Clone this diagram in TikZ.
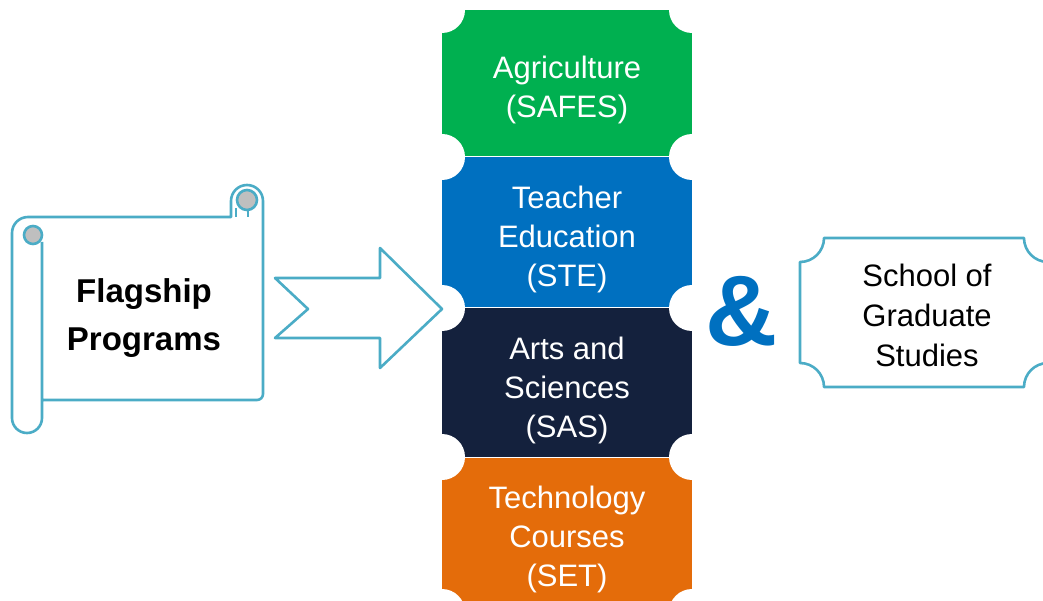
\documentclass[tikz,border=0pt]{standalone}
\usepackage{fontspec}
\setmainfont{Liberation Sans}
\usepackage{tikz}
\usetikzlibrary{positioning}

\definecolor{scrollblue}{HTML}{4BACC6}
\definecolor{agrigreen}{HTML}{00B050}
\definecolor{teachblue}{HTML}{0070C0}
\definecolor{artsnavy}{HTML}{14213D}
\definecolor{techorange}{HTML}{E46C0A}
\definecolor{curlgray}{HTML}{BFBFBF}

\begin{document}
\begin{tikzpicture}[
    x=1pt, y=-1pt,
    outline/.style={draw=scrollblue, line width=2.6pt, line join=round},
    college/.style={align=center, text=white, font=\fontsize{31}{39}\selectfont},
    plain/.style={align=center, text=black, font=\fontsize{31}{40}\selectfont}
]
\clip (0,0) rectangle (1043,601);

% Column of colleges
\fill[agrigreen] (442,10) rectangle (692,156.5);
\fill[teachblue] (442,157.5) rectangle (692,307.5);
\fill[artsnavy] (442,308.5) rectangle (692,456.5);
\fill[techorange] (442,457.5) rectangle (692,612);

% Ticket notches
\fill[white] (442,10) circle (23) (692,10) circle (23)
             (442,157) circle (23) (692,157) circle (23)
             (442,308) circle (23) (692,308) circle (23)
             (442,457) circle (23) (692,457) circle (23)
             (442,612) circle (23) (692,612) circle (23);

\node[college] (safes) at (567,90) {Agriculture\\(SAFES)};
\node[college] (ste) at (567,239) {Teacher\\Education\\(STE)};
\node[college] (sas) at (567,390) {Arts and\\Sciences\\(SAS)};
\node[college] (set) at (567,539) {Technology\\Courses\\(SET)};

% Scroll
\draw[outline, fill=white] (42,400) -- (257,400) arc[start angle=90, end angle=0, radius=6]
    -- (263,201) arc[start angle=0, end angle=-180, radius=16] -- (231,217)
    -- (28,217) arc[start angle=-90, end angle=-180, radius=16]
    -- (12,418) arc[start angle=180, end angle=0, radius=15] -- (42,242);
\draw[outline, fill=curlgray] (33,235) circle (9);
\draw[outline, fill=curlgray] (247,200) circle (10);
\draw[outline] (236,208) -- (236,217) (248,209) -- (248,217);
\node[plain, font=\fontsize{33}{48}\selectfont\bfseries] (flagship) at (144,318) {Flagship\\Programs};

% Notched arrow
\draw[outline, fill=white] (275,278) -- (380,278) -- (380,248) -- (442,309)
    -- (380,368) -- (380,338) -- (275,338) -- (308,309) -- cycle;

% Ampersand
\node[text=teachblue, font=\fontsize{100}{100}\selectfont\bfseries] (amp) at (742,311) {\&};

% Graduate school plaque
\draw[outline, fill=white] (824,238) -- (1024,238) arc[start angle=180, end angle=90, radius=24]
    -- (1048,363) arc[start angle=270, end angle=180, radius=24]
    -- (824,387) arc[start angle=0, end angle=-90, radius=24]
    -- (800,262) arc[start angle=90, end angle=0, radius=24] -- cycle;
\node[plain] (sgs) at (927,315) {School of\\Graduate\\Studies};
\end{tikzpicture}
\end{document}
